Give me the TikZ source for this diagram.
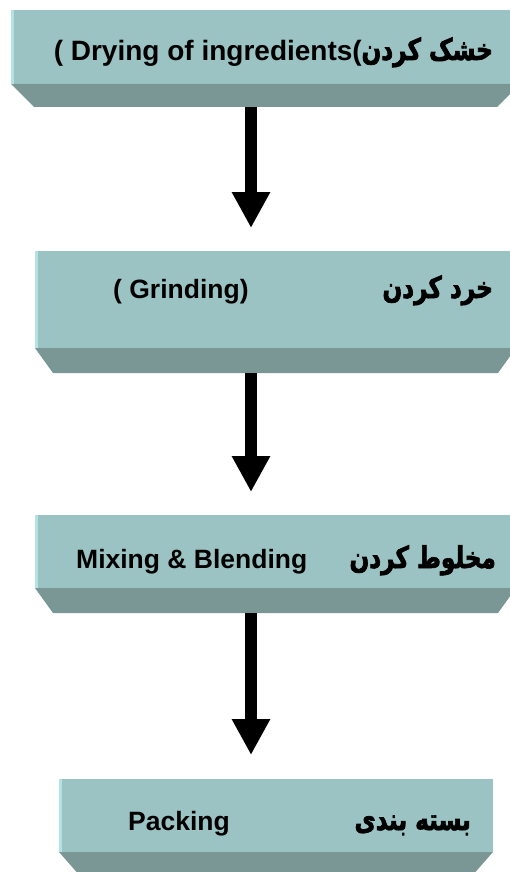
\documentclass[tikz,border=0pt]{standalone}
\usepackage{fontspec}
\usetikzlibrary{arrows.meta,calc}
\setmainfont{Liberation Sans}
\newfontfamily\fafont[Script=Arabic,FakeStretch=0.77,FakeBold=2.2]{DejaVu Sans}
\TeXXeTstate=1
\definecolor{facecol}{HTML}{9CC3C3}
\definecolor{bevelcol}{HTML}{7A9795}
\definecolor{edgecol}{HTML}{B2E2E2}
\tikzset{
  face/.style={fill=facecol, draw=none, inner sep=0pt, outer sep=0pt, anchor=north west},
  bevelpart/.style={fill=bevelcol, draw=none},
  edgeline/.style={draw=edgecol, line width=3pt},
  flowarrow/.style={line width=12pt, -{Triangle[width=36pt,length=36pt]}, black},
  entxt/.style={font=\fontsize{26.5}{30}\selectfont\bfseries, inner sep=0pt},
  entxtbig/.style={font=\fontsize{28}{30}\selectfont\bfseries, inner sep=0pt},
  fatxt/.style={font=\fontsize{30}{34}\fafont\bfseries, inner sep=0pt}
}
\begin{document}
\begin{tikzpicture}[x=1pt,y=-1pt]
\useasboundingbox (0,0) rectangle (509,872);
\fill[white] (0,0) rectangle (509,872);
% box 1
\node[face, minimum width=509pt, minimum height=74pt] (f1) at (11,10) {};
\fill[bevelpart] (f1.south west) -- (f1.south east) -- ++(-23,23) coordinate (f1br) -- ($(f1.south west)+(23,23)$) coordinate (f1bl) -- cycle;
\draw[edgeline] ($(f1.north west)+(1.5,0)$) -- ($(f1.south west)+(1.5,0)$);
% box 2
\node[face, minimum width=481pt, minimum height=97pt] (f2) at (35,251) {};
\fill[bevelpart] (f2.south west) -- (f2.south east) -- ++(-18,25) coordinate (f2br) -- ($(f2.south west)+(18,25)$) coordinate (f2bl) -- cycle;
\draw[edgeline] ($(f2.north west)+(1.5,0)$) -- ($(f2.south west)+(1.5,0)$);
% box 3
\node[face, minimum width=481pt, minimum height=73pt] (f3) at (35,515) {};
\fill[bevelpart] (f3.south west) -- (f3.south east) -- ++(-18,25) coordinate (f3br) -- ($(f3.south west)+(18,25)$) coordinate (f3bl) -- cycle;
\draw[edgeline] ($(f3.north west)+(1.5,0)$) -- ($(f3.south west)+(1.5,0)$);
% box 4
\node[face, minimum width=434pt, minimum height=73pt] (f4) at (59,779) {};
\fill[bevelpart] (f4.south west) -- (f4.south east) -- ++(-22,25) coordinate (f4br) -- ($(f4.south west)+(22,25)$) coordinate (f4bl) -- cycle;
\draw[edgeline] ($(f4.north west)+(1.5,0)$) -- ($(f4.south west)+(1.5,0)$);
% arrows
\coordinate (a1s) at (251,107);
\coordinate (a1e) at (251,228);
\coordinate (a2s) at (251,373);
\coordinate (a2e) at (251,492);
\coordinate (a3s) at (251,613);
\coordinate (a3e) at (251,755);
\draw[flowarrow] (a1s) -- (a1e);
\draw[flowarrow] (a2s) -- (a2e);
\draw[flowarrow] (a3s) -- (a3e);
% texts
\node[entxtbig, anchor=base east] (t1en) at (362,61) {(\ Drying of ingredients(};
\node[fatxt, anchor=base east] (t1fa) at (493,60) {\beginR خشک کردن\endR};
\node[entxt, anchor=base west] (t2en) at (113,298) {( Grinding)};
\node[fatxt, anchor=base east] (t2fa) at (493,298) {\beginR خرد کردن\endR};
\node[entxt, anchor=base west] (t3en) at (76,568) {Mixing \& Blending};
\node[fatxt, anchor=base east] (t3fa) at (496,568) {\beginR مخلوط کردن\endR};
\node[entxt, anchor=base west] (t4en) at (128,830) {Packing};
\node[fatxt, anchor=base east] (t4fa) at (471,830) {\beginR بسته بندی\endR};
\end{tikzpicture}
\end{document}
